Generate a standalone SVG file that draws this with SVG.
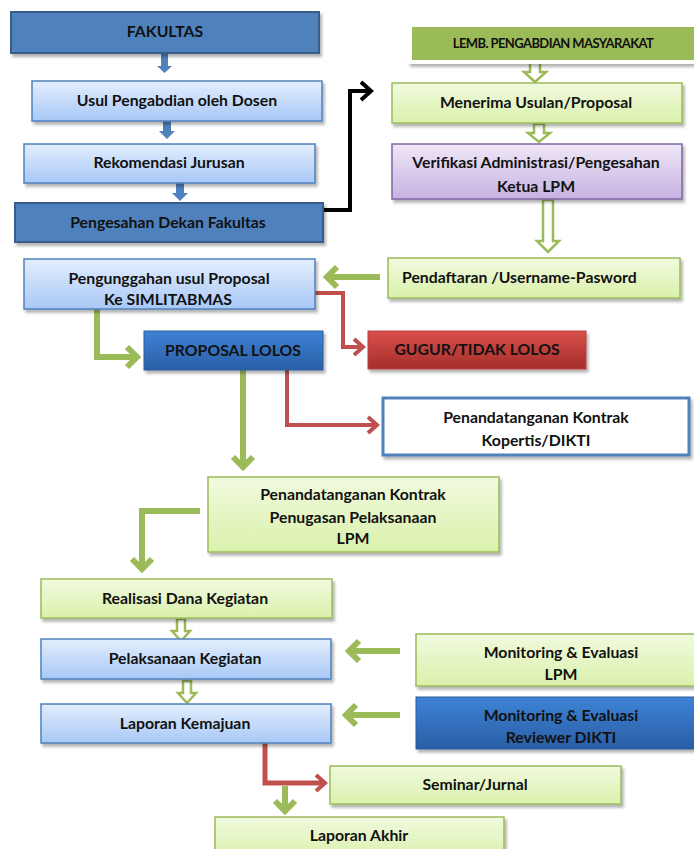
<svg xmlns="http://www.w3.org/2000/svg" width="694" height="849" viewBox="0 0 694 849">
<defs>
<linearGradient id="gLB" x1="0" y1="0" x2="0" y2="1"><stop offset="0" stop-color="#e3eefd"/><stop offset="1" stop-color="#a8c8f6"/></linearGradient>
<linearGradient id="gLG" x1="0" y1="0" x2="0" y2="1"><stop offset="0" stop-color="#f1fadf"/><stop offset="1" stop-color="#daf1ab"/></linearGradient>
<linearGradient id="gPU" x1="0" y1="0" x2="0" y2="1"><stop offset="0" stop-color="#efe7f7"/><stop offset="1" stop-color="#c6b2e1"/></linearGradient>
<linearGradient id="gRD" x1="0" y1="0" x2="0" y2="1"><stop offset="0" stop-color="#d9504c"/><stop offset="1" stop-color="#a52e2b"/></linearGradient>
<linearGradient id="gBL" x1="0" y1="0" x2="0" y2="1"><stop offset="0" stop-color="#3d82d6"/><stop offset="1" stop-color="#2a5ea6"/></linearGradient>
<filter id="sh" x="-10%" y="-20%" width="120%" height="150%"><feDropShadow dx="2" dy="3" stdDeviation="1.8" flood-color="#000" flood-opacity="0.3"/></filter>
<marker id="mG" markerUnits="userSpaceOnUse" orient="auto" overflow="visible" refX="10" refY="10" markerWidth="20" markerHeight="20"><path d="M0,0 L10,10 L0,20" fill="none" stroke="#9bbb59" stroke-width="6"/></marker>
<marker id="mR" markerUnits="userSpaceOnUse" orient="auto" overflow="visible" refX="9" refY="8" markerWidth="16" markerHeight="16"><path d="M0,0 L9,8 L0,16" fill="none" stroke="#c0504d" stroke-width="4"/></marker>
<marker id="mK" markerUnits="userSpaceOnUse" orient="auto" overflow="visible" refX="10" refY="9" markerWidth="18" markerHeight="18"><path d="M0,0 L10,9 L0,18" fill="none" stroke="#000" stroke-width="4"/></marker>
</defs>
<style>
text{font-family:Lato,"Liberation Sans",sans-serif;font-weight:bold;font-size:15.8px;fill:#111;text-anchor:middle}
.db{fill:#4f81bd;stroke:#385d8a;stroke-width:2;filter:url(#sh)}
.lb{fill:url(#gLB);stroke:#4f81bd;stroke-width:1.5;filter:url(#sh)}
.lg{fill:url(#gLG);stroke:#9bbb59;stroke-width:1.5;filter:url(#sh)}
.pu{fill:url(#gPU);stroke:#8064a2;stroke-width:1.5;filter:url(#sh)}
.rd{fill:url(#gRD);stroke:#b8413e;stroke-width:1;filter:url(#sh)}
.bl{fill:url(#gBL);stroke:#2c5d9c;stroke-width:1;filter:url(#sh)}
.gl{fill:none;stroke:#9bbb59;stroke-width:6;marker-end:url(#mG)}
.rl{fill:none;stroke:#c0504d;stroke-width:4;marker-end:url(#mR)}
.kl{fill:none;stroke:#000;stroke-width:4;marker-end:url(#mK)}
.ba{fill:#4f81bd}
.ha{fill:#fff;stroke:#9bbb59;stroke-width:2.5}
</style>
<rect width="694" height="849" fill="#fff"/>
<g id="connectors">
<path class="ba" d="M161,54 H168 V66 H172 L164.5,73 L157,66 H161 Z"/>
<path class="ba" d="M163,121 H171 V131 H175 L167,139 L159,131 H163 Z"/>
<path class="ba" d="M176,183 H184 V193 H188 L180,201 L172,193 H176 Z"/>
<path class="kl" d="M323,210 H350 V91 H371"/>
<path class="ha" d="M530,62 H540 V72 H546 L535,82 L524,72 H530 Z"/>
<path class="ha" d="M534,124 H544 V133 H550 L539,142 L528,133 H534 Z"/>
<path class="ha" d="M543,200 H553 V241 H559 L548,252 L537,241 H543 Z"/>
<path class="ha" d="M177,619 H185 V631 H190 L181,641 L172,631 H177 Z"/>
<path class="ha" d="M183,681 H191 V693 H196 L187,703 L178,693 H183 Z"/>
<path class="gl" d="M380,277 H327"/>
<path class="rl" d="M315,293 H343 V347 H363"/>
<path class="gl" d="M97,309 V357 H137"/>
<path class="rl" d="M287,370 V425 H377"/>
<path class="gl" d="M243,370 V467"/>
<path class="gl" d="M200,511 H142 V569"/>
<path class="gl" d="M400,651 H349"/>
<path class="gl" d="M400,715 H346"/>
<path class="rl" d="M265,743 V783 H325" style="stroke-width:5"/>
<path class="gl" d="M285,786 V811"/>
</g>
<g id="fakultas"><rect class="db" x="11" y="12" width="308" height="41"/><text x="165" y="37">FAKULTAS</text></g>
<g id="usul"><rect class="lb" x="32" y="81" width="290" height="40"/><text x="177" y="106">Usul Pengabdian oleh Dosen</text></g>
<g id="rekomendasi"><rect class="lb" x="24" y="144" width="291" height="39"/><text x="169" y="168">Rekomendasi Jurusan</text></g>
<g id="dekan"><rect class="db" x="15" y="203" width="308" height="39"/><text x="168" y="228">Pengesahan Dekan Fakultas</text></g>
<g id="lemb"><rect x="410" y="25" width="300" height="37" fill="#9bbb59" stroke="#fff" stroke-width="4" filter="url(#sh)"/><text x="553" y="48" style="font-size:13px;letter-spacing:-0.6px">LEMB. PENGABDIAN MASYARAKAT</text></g>
<g id="menerima"><rect class="lg" x="392" y="83" width="290" height="40"/><text x="536" y="108">Menerima Usulan/Proposal</text></g>
<g id="verifikasi"><rect class="pu" x="392" y="144" width="290" height="55"/><text x="536" y="168">Verifikasi Administrasi/Pengesahan</text><text x="536" y="192">Ketua LPM</text></g>
<g id="pendaftaran"><rect class="lg" x="388" y="258" width="292" height="40"/><text x="402" y="283" style="text-anchor:start">Pendaftaran /Username-Pasword</text></g>
<g id="pengunggahan"><rect class="lb" x="24" y="259" width="291" height="50"/><text x="169" y="284">Pengunggahan usul Proposal</text><text x="168" y="305">Ke SIMLITABMAS</text></g>
<g id="lolos"><rect class="bl" x="144" y="331" width="179" height="39"/><text x="233" y="356">PROPOSAL LOLOS</text></g>
<g id="gugur"><rect class="rd" x="368" y="331" width="218" height="38"/><text x="477" y="355">GUGUR/TIDAK LOLOS</text></g>
<g id="kopertis"><rect x="383" y="398" width="306" height="57" fill="#fff" stroke="#4f81bd" stroke-width="3" filter="url(#sh)"/><text x="536" y="423">Penandatanganan Kontrak</text><text x="536" y="446">Kopertis/DIKTI</text></g>
<g id="penugasan"><rect class="lg" x="208" y="477" width="291" height="75"/><text x="353" y="500">Penandatanganan Kontrak</text><text x="353" y="523">Penugasan Pelaksanaan</text><text x="353" y="544">LPM</text></g>
<g id="realisasi"><rect class="lg" x="41" y="579" width="291" height="39"/><text x="185" y="604">Realisasi Dana Kegiatan</text></g>
<g id="pelaksanaan"><rect class="lb" x="41" y="639" width="290" height="40"/><text x="185" y="664">Pelaksanaan Kegiatan</text></g>
<g id="kemajuan"><rect class="lb" x="41" y="704" width="290" height="39"/><text x="185" y="729">Laporan Kemajuan</text></g>
<g id="monev-lpm"><rect class="lg" x="416" y="634" width="290" height="52"/><text x="561" y="658">Monitoring &amp; Evaluasi</text><text x="561" y="680">LPM</text></g>
<g id="monev-dikti"><rect class="bl" x="416" y="697" width="290" height="52"/><text x="561" y="721">Monitoring &amp; Evaluasi</text><text x="561" y="743">Reviewer DIKTI</text></g>
<g id="seminar"><rect class="lg" x="330" y="766" width="291" height="38"/><text x="475" y="790">Seminar/Jurnal</text></g>
<g id="akhir"><rect class="lg" x="215" y="817" width="289" height="42"/><text x="359" y="841">Laporan Akhir</text></g>
</svg>
